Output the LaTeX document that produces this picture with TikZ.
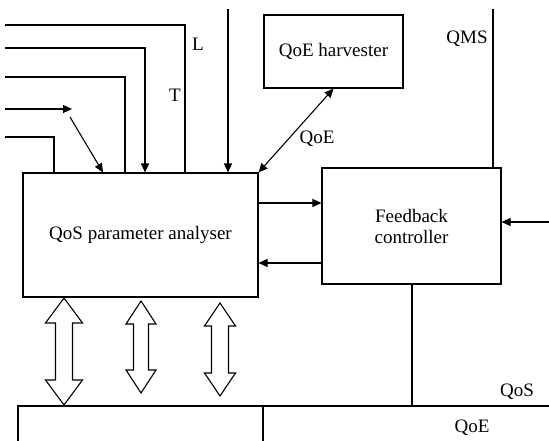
\documentclass[tikz,border=0pt]{standalone}
\usepackage{fontspec}
\setmainfont{Liberation Serif}
\usepackage{tikz}
\usetikzlibrary{
	arrows.meta,
	positioning,
	calc
}

\begin{document}
\begin{tikzpicture}[
			x=1pt,y=-1pt,
			box/.style={rectangle,draw,line width=1.1pt,align=center,inner sep=0pt},
			lbl/.style={font=\fontsize{19}{21}\selectfont,inner sep=0pt},
			>={Triangle[length=9pt,width=8pt]},
			line width=1.1pt
			]
			\useasboundingbox (0,0) rectangle (549,440);
			\clip (0,0) rectangle (549,440);
			
			% Blocks
			\node[box,lbl,minimum width=235pt,minimum height=124pt] (analyser) at (140.5,235){QoS parameter analyser};
			\node[box,lbl,minimum width=139pt,minimum height=73pt] (harvester) at (333.5,51.5){QoE harvester};
			\node[box,lbl,minimum width=179pt,minimum height=116pt,text width=150pt] (feedback) at (411.5,226){Feedback\\controller};
			
			% Lower blocks (cut off)
			\node[box,minimum width=245pt,minimum height=70pt] (store) at (140.5,441){};
			\node[box,minimum width=300pt,minimum height=70pt] (qoeout) at (413,441){};
			
			% Input lines
			\coordinate (in1) at (5,25);
			\coordinate (in2) at (5,48);
			\coordinate (in3) at (5,77);
			\coordinate (in4) at (5,109);
			\coordinate (in5) at (5,137);
			\coordinate (in4end) at (72,109);
			\coordinate (skew) at (70,117);
			\coordinate (top) at (228,9);
			\coordinate (qms) at (493,9);
			\coordinate (right) at (549,222);
			\coordinate (qosend) at (549,406);
			
			\draw (in1) -| (analyser.north west -| 185,0);
			\draw[->] (in2) -| (analyser.north west -| 145,0);
			\draw (in3) -| (analyser.north west -| 125,0);
			\draw[->] (in4) -- (in4end);
			\draw[->] (skew) -- (analyser.north west -| 103,0);
			\draw (in5) -| (analyser.north west -| 54,0);
			\draw[->] (top) -- (analyser.north west -| 228,0);
			
			\node[lbl] (Llbl) at (198,44){L};
			\node[lbl] (Tlbl) at (175,95){T};
			
			% QoE exchange
			\draw[<->] (harvester.south) -- (analyser.north east);
			\node[lbl] (qoelbl) at (317,139){QoE};
			
			% QMS
			\draw (qms) -- (feedback.north -| 493,0);
			\node[lbl] (qmslbl) at (467,39){QMS};
			
			% Analyser <-> controller
			\draw[->] (analyser.east |- 0,203) -- (feedback.west |- 0,203);
			\draw[->] (feedback.west |- 0,263) -- (analyser.east |- 0,263);
			\draw[->] (right) -- (feedback.east |- right);
			
			% QoS output
			\draw (feedback.south -| 412,0) -- (412,406) -- (qosend);
			\node[lbl] (qoslbl) at (517,392){QoS};
			\node[lbl] (qoeoutlbl) at (472,428){QoE};
			
			% Hollow double arrows
			\foreach \x/\ya/\yb/\s/\h/\l in {64/298/405/8.5/18.5/25, 141/301/393/7.5/15/23, 220/303/396/8.5/15.5/23}
			{
				\draw[line width=1.1pt,line join=miter] (\x,\ya) -- ({\x+\h},{\ya+\l}) -- ({\x+\s},{\ya+\l}) -- ({\x+\s},{\yb-\l}) -- ({\x+\h},{\yb-\l}) -- (\x,\yb) -- ({\x-\h},{\yb-\l}) -- ({\x-\s},{\yb-\l}) -- ({\x-\s},{\ya+\l}) -- ({\x-\h},{\ya+\l}) -- cycle;
			}
			
		\end{tikzpicture}
\end{document}
